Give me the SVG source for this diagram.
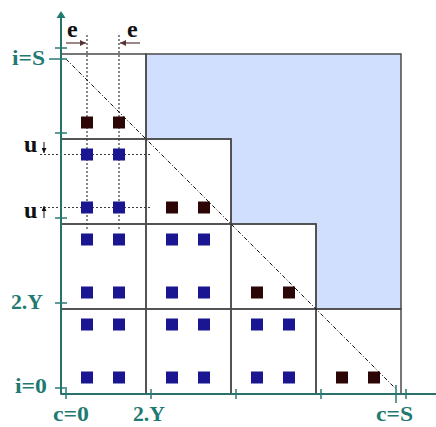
<svg xmlns="http://www.w3.org/2000/svg" width="436" height="427" viewBox="0 0 436 427">
<style>
.cell{fill:none;stroke:#4a4a4a;stroke-width:1.5}
.blue{fill:#d0dffd;stroke:#4a4a4a;stroke-width:1.5}
.sq{fill:#1a1590}
.dk{fill:#2c0506}
.dot{stroke:#3a3a3a;stroke-width:1.2;stroke-dasharray:2 2;fill:none}
.diag{stroke:#111;stroke-width:1;stroke-dasharray:4 2 1 2;fill:none}
.ax{stroke:#2a716c;stroke-width:2;fill:none}
.tk{stroke:#2a7a74;stroke-width:1.5;fill:none}
.lab{font-family:"Liberation Serif",serif;font-weight:bold;font-size:22px;fill:#1f7a72}
.var{font-family:"Liberation Serif",serif;font-weight:bold;font-size:24px;fill:#111}
.ea{stroke:#5a3434;stroke-width:1.2;fill:none}
.ua{stroke:#111;stroke-width:1;fill:none}
</style>
<defs>
<marker id="ah" viewBox="0 0 10 10" refX="10" refY="5" markerWidth="6" markerHeight="6" orient="auto" markerUnits="userSpaceOnUse"><path d="M0,0 L10,5 L0,10 z" fill="#5a3434"/></marker>
<marker id="ahk" viewBox="0 0 10 10" refX="10" refY="5" markerWidth="5" markerHeight="5" orient="auto" markerUnits="userSpaceOnUse"><path d="M0,0 L10,5 L0,10 z" fill="#111"/></marker>
</defs>
<g id="blue-region"><polygon class="blue" points="146,54 401,54 401,309 316,309 316,224 231,224 231,139 146,139"/></g>
<g id="cells">
<rect id="cell-0-0" class="cell" x="61" y="54" width="85" height="85"/>
<rect id="cell-1-0" class="cell" x="61" y="139" width="85" height="85"/>
<rect id="cell-1-1" class="cell" x="146" y="139" width="85" height="85"/>
<rect id="cell-2-0" class="cell" x="61" y="224" width="85" height="85"/>
<rect id="cell-2-1" class="cell" x="146" y="224" width="85" height="85"/>
<rect id="cell-2-2" class="cell" x="231" y="224" width="85" height="85"/>
<rect id="cell-3-0" class="cell" x="61" y="309" width="85" height="85"/>
<rect id="cell-3-1" class="cell" x="146" y="309" width="85" height="85"/>
<rect id="cell-3-2" class="cell" x="231" y="309" width="85" height="85"/>
<rect id="cell-3-3" class="cell" x="316" y="309" width="85" height="85"/>
</g>
<g id="connectors">
<line class="dot" x1="87" y1="35" x2="87" y2="229"/>
<line class="dot" x1="119" y1="35" x2="119" y2="229"/>
<line class="dot" x1="40" y1="154.5" x2="152" y2="154.5"/>
<line class="dot" x1="40" y1="207.5" x2="152" y2="207.5"/>
<line class="diag" x1="66" y1="59" x2="396" y2="389"/>
<line class="ea" x1="66" y1="43" x2="86" y2="43" marker-end="url(#ah)"/>
<line class="ea" x1="140" y1="43" x2="120" y2="43" marker-end="url(#ah)"/>
<line class="ua" x1="44" y1="142" x2="44" y2="153" marker-end="url(#ahk)"/>
<line class="ua" x1="44" y1="218" x2="44" y2="206" marker-end="url(#ahk)"/>
</g>
<g id="squares">
<rect class="dk" x="81" y="116.5" width="12" height="12"/><rect class="dk" x="113" y="116.5" width="12" height="12"/>
<rect class="sq" x="81" y="148.5" width="12" height="12"/><rect class="sq" x="113" y="148.5" width="12" height="12"/>
<rect class="sq" x="81" y="201.5" width="12" height="12"/><rect class="sq" x="113" y="201.5" width="12" height="12"/>
<rect class="dk" x="166" y="201.5" width="12" height="12"/><rect class="dk" x="198" y="201.5" width="12" height="12"/>
<rect class="sq" x="81" y="233.5" width="12" height="12"/><rect class="sq" x="113" y="233.5" width="12" height="12"/>
<rect class="sq" x="81" y="286.5" width="12" height="12"/><rect class="sq" x="113" y="286.5" width="12" height="12"/>
<rect class="sq" x="166" y="233.5" width="12" height="12"/><rect class="sq" x="198" y="233.5" width="12" height="12"/>
<rect class="sq" x="166" y="286.5" width="12" height="12"/><rect class="sq" x="198" y="286.5" width="12" height="12"/>
<rect class="dk" x="251" y="286.5" width="12" height="12"/><rect class="dk" x="283" y="286.5" width="12" height="12"/>
<rect class="sq" x="81" y="318.5" width="12" height="12"/><rect class="sq" x="113" y="318.5" width="12" height="12"/>
<rect class="sq" x="81" y="371.5" width="12" height="12"/><rect class="sq" x="113" y="371.5" width="12" height="12"/>
<rect class="sq" x="166" y="318.5" width="12" height="12"/><rect class="sq" x="198" y="318.5" width="12" height="12"/>
<rect class="sq" x="166" y="371.5" width="12" height="12"/><rect class="sq" x="198" y="371.5" width="12" height="12"/>
<rect class="sq" x="251" y="318.5" width="12" height="12"/><rect class="sq" x="283" y="318.5" width="12" height="12"/>
<rect class="sq" x="251" y="371.5" width="12" height="12"/><rect class="sq" x="283" y="371.5" width="12" height="12"/>
<rect class="dk" x="336" y="371.5" width="12" height="12"/><rect class="dk" x="368" y="371.5" width="12" height="12"/>
</g>
<g id="axes">
<line class="ax" x1="61" y1="394" x2="436" y2="394"/>
<line class="ax" x1="61" y1="394" x2="61" y2="16"/>
<polygon points="61,11 56.5,18 65.5,18" fill="#1f7a72"/>
<path class="tk" d="M55,48H67M55,133H67M55,218H67M55,303H67M55,388H67M49,59H67"/>
<path class="tk" d="M66,389V399M151,389V399M236,389V399M321,389V399M406,389V399M396,385V403"/>
</g>
<g id="labels">
<text class="lab" x="12" y="65" textLength="33" lengthAdjust="spacingAndGlyphs">i=S</text>
<text class="lab" x="11" y="309" textLength="32" lengthAdjust="spacingAndGlyphs">2.Y</text>
<text class="lab" x="15" y="393" textLength="32" lengthAdjust="spacingAndGlyphs">i=0</text>
<text class="lab" x="53" y="421" textLength="36" lengthAdjust="spacingAndGlyphs">c=0</text>
<text class="lab" x="133" y="421" textLength="32" lengthAdjust="spacingAndGlyphs">2.Y</text>
<text class="lab" x="376" y="421" textLength="37" lengthAdjust="spacingAndGlyphs">c=S</text>
<text class="var" x="24" y="152">u</text>
<text class="var" x="24" y="218">u</text>
<text class="var" x="67" y="37">e</text>
<text class="var" x="127" y="37">e</text>
</g>
</svg>
